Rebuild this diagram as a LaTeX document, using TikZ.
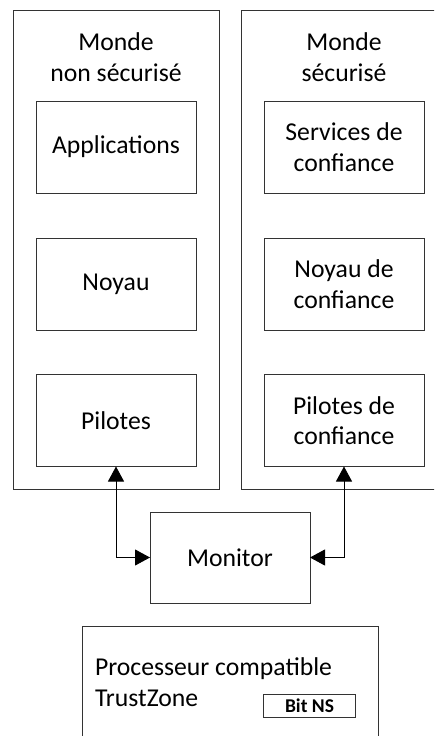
\documentclass[tikz,border=0pt]{standalone}
\usepackage{fontspec}
\setmainfont{Carlito}
\usetikzlibrary{arrows.meta}
\begin{document}
\begin{tikzpicture}[x=1pt,y=-1pt,
  every node/.style={font=\fontsize{25.7}{30.5}\selectfont, inner sep=0pt, outer sep=0pt},
  world/.style={draw=black!80, line width=1pt, minimum width=206pt, minimum height=479pt},
  layer/.style={draw=black!80, line width=1pt, minimum width=160pt, minimum height=92pt, align=center},
  title/.style={align=center},
  link/.style={line width=0.9pt, {Triangle[length=15pt,width=16pt]}-{Triangle[length=15pt,width=16pt]}}
]
\useasboundingbox (0,0) rectangle (434,736);
\clip (0,0) rectangle (434,736);

% the two worlds
\node[world] (nsw) at (116,249.5) {};
\node[world] (sw)  at (344,249.5) {};
\node[title] (nswt) at (116,57) {Monde\\non sécurisé};
\node[title] (swt)  at (344,57) {Monde\\sécurisé};

% layers of the normal world
\node[layer] (app) at (116,147)   {Applications};
\node[layer] (ker) at (116,284)   {Noyau};
\node[layer] (drv) at (116,420.5) {Pilotes};

% layers of the secure world
\node[layer] (tsrv) at (344,147)   {Services de\\confiance};
\node[layer] (tker) at (344,284)   {Noyau de\\confiance};
\node[layer] (tdrv) at (344,420.5) {Pilotes de\\confiance};

% monitor between both worlds
\node[layer, minimum height=91pt] (mon) at (230,557.5) {Monitor};

\draw[link] (drv.south) |- (mon.west);
\draw[link] (tdrv.south) |- (mon.east);

% TrustZone processor
\node[draw=black!80, line width=1pt, minimum width=296pt, minimum height=154pt] (cpu) at (230,703) {};
\node[anchor=west, align=left] (cput) at (95,682) {Processeur compatible\\TrustZone};
\node[draw=black!80, line width=1pt, minimum width=92pt, minimum height=23pt,
      font=\fontsize{19.5}{21}\selectfont\bfseries] (ns) at (309.5,705.5) {Bit NS};
\end{tikzpicture}
\end{document}
